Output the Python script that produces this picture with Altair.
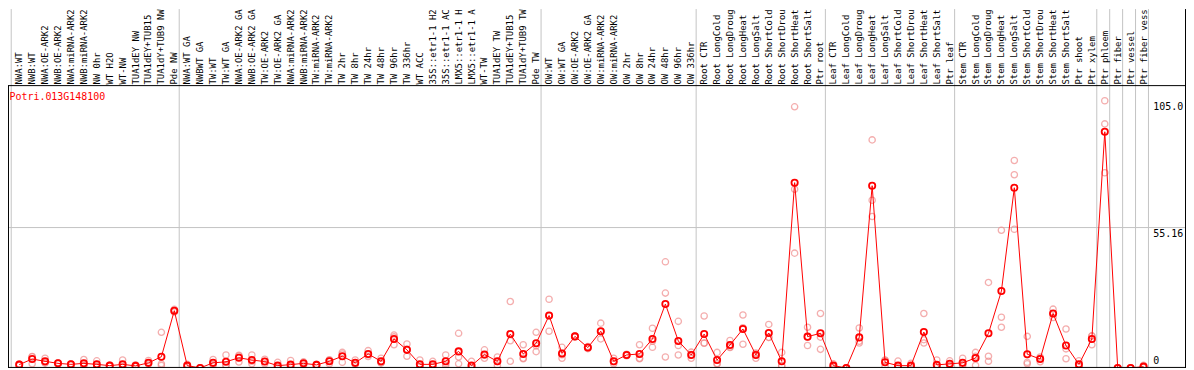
import altair as alt
import pandas as pd

gene = "Potri.013G148100"

labels = [
    "NWA:WT", "NWB:WT", "NWA:OE-ARK2", "NWB:OE-ARK2", "NWA:miRNA-ARK2", "NWB:miRNA-ARK2",
    "NW 0hr", "WT H2O", "WT-NW", "TUA1dEY NW", "TUA1dEY+TUB15", "TUA1dY+TUB9 NW", "Pde NW",
    "NWA:WT GA", "NWBWT GA", "TW:WT", "TW:WT GA", "NWA:OE-ARK2 GA", "NWB:OE-ARK2 GA",
    "TW:OE-ARK2", "TW:OE-ARK2 GA", "NWA:miRNA-ARK2", "NWB:miRNA-ARK2", "TW:miRNA-ARK2",
    "TW:miRNA-ARK2", "TW 2hr", "TW 8hr", "TW 24hr", "TW 48hr", "TW 96hr", "TW 336hr",
    "WT ACC", "35S::etr1-1 H2", "35S::etr1-1 AC", "LMX5::etr1-1 H", "LMX5::etr1-1 A",
    "WT-TW", "TUA1dEY TW", "TUA1dEY+TUB15", "TUA1dY+TUB9 TW", "Pde TW",
    "OW:WT", "OW:WT GA", "OW:OE-ARK2", "OW:OE-ARK2 GA", "OW:miRNA-ARK2", "OW:miRNA-ARK2",
    "OW 2hr", "OW 8hr", "OW 24hr", "OW 48hr", "OW 96hr", "OW 336hr",
    "Root CTR", "Root LongCold", "Root LongDroug", "Root LongHeat", "Root LongSalt",
    "Root ShortCold", "Root ShortDrou", "Root ShortHeat", "Root ShortSalt", "Ptr root",
    "Leaf CTR", "Leaf LongCold", "Leaf LongDroug", "Leaf LongHeat", "Leaf LongSalt",
    "Leaf ShortCold", "Leaf ShortDrou", "Leaf ShortHeat", "Leaf ShortSalt", "Ptr leaf",
    "Stem CTR", "Stem LongCold", "Stem LongDroug", "Stem LongHeat", "Stem LongSalt",
    "Stem ShortCold", "Stem ShortDrou", "Stem ShortHeat", "Stem ShortSalt", "Ptr shoot",
    "Ptr xylem", "Ptr phloem", "Ptr fiber", "Ptr vessel", "Ptr fiber vess",
]

means = [
    1.3, 3.5, 2.6, 1.8, 1.4, 1.8, 1.4, 0.9, 1.4, 0.8, 2.0, 4.4, 22.5,
    0.9, 0.0, 2.0, 2.4, 4.0, 3.1, 2.5, 0.9, 1.3, 1.8, 1.2, 2.6, 4.6, 2.0, 5.5, 2.6, 11.4, 7.1,
    1.4, 1.4, 2.6, 6.5, 0.9, 5.3, 2.6, 13.3, 5.5, 9.7,
    20.6, 5.7, 12.4, 8.0, 14.4, 2.6, 5.1, 5.5, 11.4, 25.1, 10.6, 5.1,
    13.3, 3.1, 9.0, 15.3, 5.1, 13.7, 2.6, 72.8, 12.3, 13.6,
    0.9, 0.0, 12.0, 71.6, 2.2, 0.9, 0.9, 14.1, 1.2, 1.6,
    2.0, 3.9, 13.6, 30.2, 70.8, 5.4, 3.5, 21.4, 8.8, 1.4,
    11.4, 92.8, 0.0, 0.0, 0.5,
]

rep1 = [
    1.0, 4.4, 3.8, 1.8, 1.4, 3.3, 2.8, 0.9, 3.1, 1.2, 2.9, 14.0, 22.5,
    1.4, 0.0, 3.3, 5.1, 5.0, 5.1, 2.5, 2.2, 2.9, 2.4, 1.4, 3.0, 6.1, 3.1, 6.8, 3.8, 12.9, 9.4,
    3.1, 2.6, 5.1, 13.6, 2.6, 7.1, 1.0, 26.1, 9.1, 14.0,
    27.0, 8.1, 12.6, 8.4, 17.6, 3.8, 5.4, 9.1, 15.6, 41.7, 18.3, 6.2,
    20.4, 6.1, 10.8, 20.8, 5.6, 17.1, 6.1, 102.6, 16.0, 21.4,
    1.6, 0.0, 15.7, 89.6, 3.1, 2.7, 1.8, 21.4, 3.1, 2.8,
    3.8, 6.1, 33.6, 54.1, 81.5, 12.4, 4.3, 23.1, 15.3, 2.8,
    12.5, 105.0, 0.0, 0.0, 1.0,
]

rep2 = [
    1.5, 1.6, 2.1, 2.0, 1.6, 0.8, 0.8, 1.1, 0.6, 0.6, 1.6, 1.6, 22.0,
    0.7, 0.1, 1.5, 1.2, 2.3, 1.6, 1.6, 0.3, 0.6, 1.2, 1.0, 1.6, 2.2, 1.5, 4.5, 2.0, 9.1, 4.6,
    0.6, 0.9, 1.0, 1.6, 0.1, 3.8, 4.3, 10.7, 3.8, 6.4,
    14.4, 3.8, 12.2, 7.6, 11.4, 1.6, 4.8, 3.8, 8.1, 29.4, 8.8, 3.8,
    9.7, 1.6, 8.0, 9.3, 3.8, 12.0, 0.9, 70.2, 8.8, 7.3,
    0.6, 0.1, 9.8, 65.9, 0.6, 0.0, 0.5, 9.8, 0.3, 1.0,
    1.0, 1.0, 4.6, 19.9, 75.9, 1.6, 2.4, 19.8, 7.5, 0.8,
    9.1, 95.9, 0.0, 0.0, 0.3,
]

rep3 = [
    1.4, 4.5, 1.9, 1.6, 1.2, 1.3, 0.6, 0.7, 0.5, 0.6, 1.5, 1.0, 23.0,
    0.6, 0.0, 1.2, 0.9, 4.7, 2.6, 3.4, 0.2, 0.4, 1.8, 1.2, 3.2, 5.5, 1.4, 5.2, 2.0, 12.2, 7.3,
    0.5, 0.7, 1.7, 4.3, 0.0, 5.0, 2.5, 2.6, 3.6, 8.7,
    20.4, 5.2, 12.4, 8.0, 14.2, 2.4, 5.1, 3.6, 10.5, 4.3, 5.1, 5.3,
    9.8, 1.6, 8.2, 15.8, 5.9, 12.0, 0.8, 45.1, 12.1, 12.1,
    0.5, 0.0, 10.5, 59.5, 2.9, 0.0, 0.4, 11.1, 0.2, 1.0,
    1.2, 4.6, 2.6, 16.0, 54.5, 2.2, 3.8, 21.3, 3.6, 0.6,
    12.6, 76.7, 0.0, 0.0, 0.2,
]

# index of the last column before each grey separator line
group_ends = [-1, 12, 40, 52, 62, 72, 83, 84, 85, 86, 87]

y_tick_values = [105.0, 55.16]
y_tick_texts = ["105.0", "55.16"]
y_zero_value = [0]
y_zero_text = ["0"]

W, H = 1185, 361
RED = "#ff0000"
PINK = "#f08c8c"
GRID = "#c4c4c4"
MONO = "DejaVu Sans Mono"

df = pd.DataFrame({"i": list(range(len(labels))), "label": labels, "mean": means,
                   "r1": rep1, "r2": rep2, "r3": rep3})
seps = pd.DataFrame({"b": group_ends})
ticks = pd.DataFrame({"v": y_tick_values, "t": y_tick_texts})
zero = pd.DataFrame({"v": y_zero_value, "t": y_zero_text})
one = pd.DataFrame({"a": [0]})

xs = alt.Scale(domain=[-11.3 / 13, (W - 11.3) / 13], nice=False, zero=False)
ys = alt.Scale(domain=[0, H / 2.56], nice=False, zero=False)

base = alt.Chart(df)

sep_layer = alt.Chart(seps).transform_calculate(xp="datum.b + 0.38").mark_rule(
    color=GRID, strokeWidth=1).encode(
    x=alt.X("xp:Q", scale=xs, axis=None), y=alt.value(0), y2=alt.value(H))

hgrid = alt.Chart(ticks).transform_filter("datum.v < 100").mark_rule(
    color=GRID, strokeWidth=1).encode(
    y=alt.Y("v:Q", scale=ys, axis=None), x=alt.value(0), x2=alt.value(W))

reps = base.transform_fold(["r1", "r2", "r3"], as_=["rep", "val"]).mark_point(
    shape="circle", filled=False, color=PINK, strokeWidth=1.3, size=40, clip=True).encode(
    x=alt.X("i:Q", scale=xs, axis=None), y=alt.Y("val:Q", scale=ys, axis=None))

line = base.mark_line(color=RED, strokeWidth=1, clip=True).encode(
    x=alt.X("i:Q", scale=xs, axis=None), y=alt.Y("mean:Q", scale=ys, axis=None))

mean_pts = base.mark_point(shape="circle", filled=False, color=RED, strokeWidth=1.8,
                           size=40, opacity=1, clip=True).encode(
    x=alt.X("i:Q", scale=xs, axis=None), y=alt.Y("mean:Q", scale=ys, axis=None))

col_labels = base.mark_text(angle=270, align="left", baseline="middle", font=MONO,
                            fontSize=9, color="black").encode(
    x=alt.X("i:Q", scale=xs, axis=None), y=alt.value(76), text="label:N")

title = alt.Chart(one).mark_text(align="left", baseline="middle", font=MONO, fontSize=10,
                                 color=RED).encode(
    x=alt.value(1.5), y=alt.value(88.7), text=alt.value(gene))

tick_text = alt.Chart(ticks).mark_text(align="left", baseline="top", font=MONO, fontSize=10,
                                       color="black", dy=1).encode(
    y=alt.Y("v:Q", scale=ys, axis=None), x=alt.value(1152), text="t:N")

zero_text = alt.Chart(zero).mark_text(align="left", baseline="bottom", font=MONO, fontSize=10,
                                      color="black", dy=-2).encode(
    y=alt.Y("v:Q", scale=ys, axis=None), x=alt.value(1152), text="t:N")

top_line = alt.Chart(one).mark_rule(color="black", strokeWidth=1).encode(
    x=alt.value(0), x2=alt.value(W), y=alt.value(77))
bottom_line = alt.Chart(one).mark_rule(color="black", strokeWidth=1).encode(
    x=alt.value(0), x2=alt.value(W), y=alt.value(H - 0.5))
left_line = alt.Chart(one).mark_rule(color="black", strokeWidth=1).encode(
    x=alt.value(0.5), y=alt.value(77), y2=alt.value(H))
right_line = alt.Chart(one).mark_rule(color="black", strokeWidth=1).encode(
    x=alt.value(W - 0.5), y=alt.value(0), y2=alt.value(H))

chart = alt.layer(
    sep_layer, hgrid, reps, line, mean_pts, col_labels, title, tick_text, zero_text,
    top_line, bottom_line, left_line, right_line,
).properties(
    width=W, height=H, padding=0, autosize=alt.AutoSizeParams(type="none"),
    background="white",
).configure_view(stroke=None)

chart.save("out.html", embed_options={"renderer": "svg", "actions": False})
